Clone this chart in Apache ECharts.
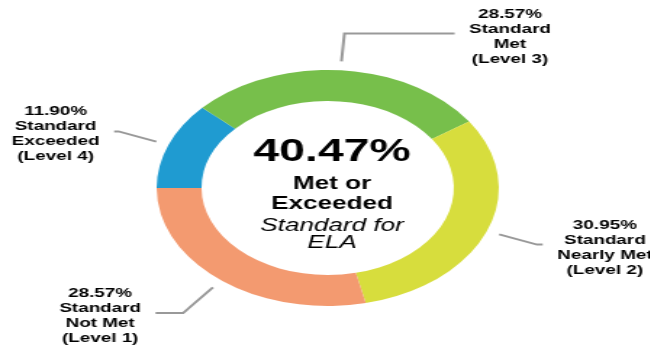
<!DOCTYPE html>
<html>
<head>
<meta charset="utf-8">
<script src="https://cdn.jsdelivr.net/npm/echarts@6/dist/echarts.min.js"></script>
<style>
  html, body { margin: 0; padding: 0; background: #fff; overflow: hidden; }
  /* the reference picture is stretched sideways, so draw narrow and stretch */
  #main { width: 448px; height: 345px; transform: scaleX(1.45); transform-origin: 0 0; }
</style>
</head>
<body>
<div id="main"></div>
<script>
var levels = ['Standard\nExceeded\n(Level 4)', 'Standard\nMet\n(Level 3)', 'Standard\nNearly Met\n(Level 2)', 'Standard\nNot Met\n(Level 1)'];
var percents = [11.90, 28.57, 30.95, 28.57];
var colors = ['#1f9bd1', '#77bf4b', '#d7dd3d', '#f39a70'];
// leader line legs
var leg1 = [37, 37, 37, 42];
var leg2 = [3, 76, 4, 19];

var metOrExceeded = (percents[0] + percents[1]).toFixed(2);

var myChart = echarts.init(document.getElementById('main'));

var pieData = percents.map(function (v, i) {
    return {
        name: levels[i],
        value: v,
        itemStyle: { color: colors[i] },
        labelLine: { length: leg1[i], length2: leg2[i] }
    };
});

var option = {
    animation: false,
    textStyle: { fontFamily: 'Liberation Sans, Arial, sans-serif' },
    graphic: [{
        type: 'text',
        x: 229,
        y: 130,
        style: {
            text: '{p|' + metOrExceeded + '%}\n{b|Met or}\n{b|Exceeded}\n{i|Standard for}\n{j|ELA}',
            align: 'center',
            verticalAlign: 'top',
            fill: '#000',
            rich: {
                p: { fontSize: 32, fontWeight: 'bold', lineHeight: 44, fontFamily: 'Liberation Sans', fill: '#000' },
                b: { fontSize: 18, fontWeight: 'bold', lineHeight: 20, fontFamily: 'Liberation Sans', fill: '#000' },
                i: { fontSize: 18, fontStyle: 'italic', lineHeight: 23, fontFamily: 'Liberation Sans', fill: '#000' },
                j: { fontSize: 18, fontStyle: 'italic', lineHeight: 12, fontFamily: 'Liberation Sans', fill: '#000' }
            }
        }
    }],
    series: [{
        type: 'pie',
        center: [226, 188],
        radius: [87, 118],
        startAngle: 180,
        clockwise: true,
        avoidLabelOverlap: false,
        label: {
            show: true,
            position: 'outside',
            formatter: function (p) {
                return p.value.toFixed(2) + '%\n' + p.name;
            },
            fontFamily: 'Liberation Sans',
            fontWeight: 'bold',
            fontSize: 13,
            lineHeight: 15,
            color: '#000'
        },
        labelLine: {
            show: true,
            smooth: false,
            lineStyle: { color: '#999', width: 2 }
        },
        labelLayout: function (params) {
            var pts = params.labelLinePoints;
            if (!pts) return {};
            var p0 = pts[0], p1 = pts[1], p2 = pts[2];
            var dx = p1[0] - p0[0], dy = p1[1] - p0[1];
            var d = Math.sqrt(dx * dx + dy * dy) || 1;
            var start = [p0[0] + dx / d * 9, p0[1] + dy / d * 9];
            var side = p2[0] >= p1[0] ? 1 : -1;
            return {
                x: p2[0] + side * (params.labelRect.width / 2 + 10),
                y: p2[1] + 3,
                align: 'center',
                verticalAlign: 'middle',
                labelLinePoints: [start, p1, p2]
            };
        },
        data: pieData
    }]
};

myChart.setOption(option);
</script>
</body>
</html>
